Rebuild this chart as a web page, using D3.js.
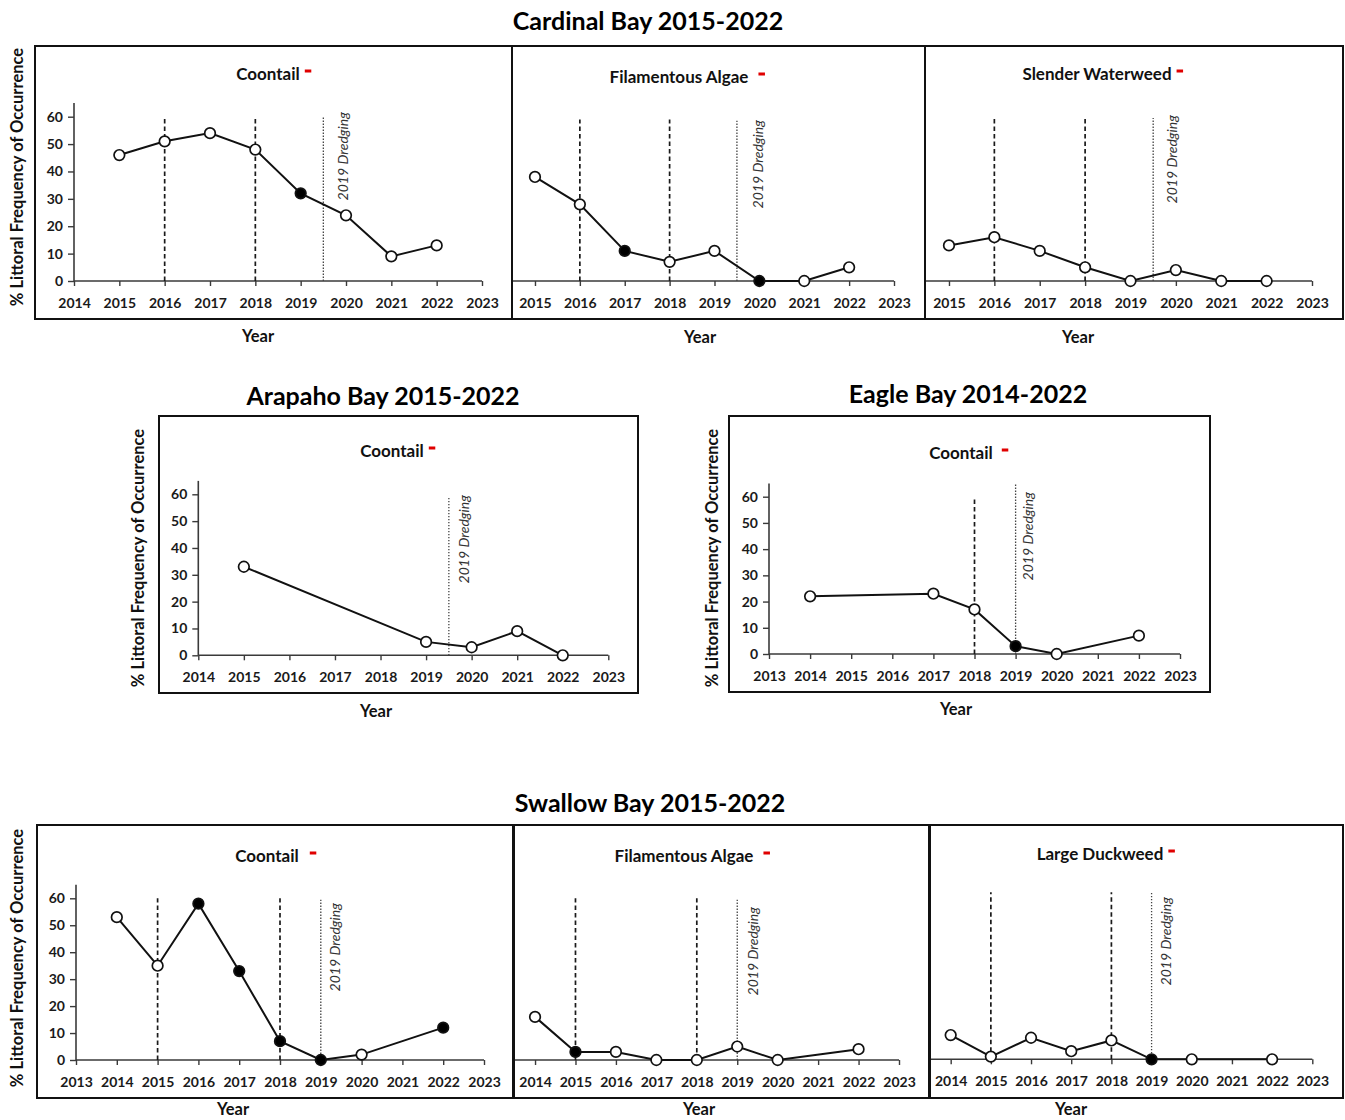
<!DOCTYPE html>
<html>
<head>
<meta charset="utf-8">
<script src="https://cdn.jsdelivr.net/npm/d3@7"></script>
<style>
  body { margin: 0; background: #fff; }
  svg { display: block; }
  text { font-family: Lato, "Open Sans", "Liberation Sans", sans-serif; }
</style>
</head>
<body>
<svg id="chart" width="1345" height="1120"></svg>
<script>
// ---- Survey years per bay ----
const cardinalYears = [2015, 2016, 2017, 2018, 2019, 2020, 2021, 2022];
const arapahoYears  = [2015, 2019, 2020, 2021, 2022];
const eagleYears    = [2014, 2017, 2018, 2019, 2020, 2022];
const swallowYears  = [2014, 2015, 2016, 2017, 2018, 2019, 2020, 2022];

// ---- % littoral frequency of occurrence ----
const cardinalCoontail  = [46, 51, 54, 48, 32, 24, 9, 13];
const cardinalFilAlgae  = [38, 28, 11, 7, 11, 0, 0, 5];
const cardinalWaterweed = [13, 16, 11, 5, 0, 4, 0, 0];
const arapahoCoontail   = [33, 5, 3, 9, 0];
const eagleCoontail     = [22, 23, 17, 3, 0, 7];
const swallowCoontail   = [53, 35, 58, 33, 7, 0, 2, 12];
const swallowFilAlgae   = [16, 3, 3, 0, 0, 5, 0, 4];
const swallowDuckweed   = [9, 1, 8, 3, 7, 0, 0, 0];

// ---- years with a significant change (filled markers) ----
const cardinalCoontailSig  = [2019];
const cardinalFilAlgaeSig  = [2017, 2020];
const cardinalWaterweedSig = [];
const arapahoCoontailSig   = [];
const eagleCoontailSig     = [2019];
const swallowCoontailSig   = [2016, 2017, 2018, 2019, 2022];
const swallowFilAlgaeSig   = [2015];
const swallowDuckweedSig   = [2019];

// ---- treatment years (dashed) and dredging year (dotted) ----
const cardinalTreatYears = [2016, 2018];
const arapahoTreatYears  = [];
const eagleTreatYears    = [2018];
const swallowTreatYears  = [2015, 2018];
const cardinalDredge = 2019.5;
const arapahoDredge  = 2019.5;
const eagleDredge    = 2019;
const swallowDredge  = 2019;

// ---- text ----
const bayTitles = ["Cardinal Bay 2015-2022", "Arapaho Bay 2015-2022", "Eagle Bay 2014-2022", "Swallow Bay 2015-2022"];
const yTicks = [0, 10, 20, 30, 40, 50, 60];
const yTitle = "% Littoral Frequency of Occurrence";
const xTitle = "Year";
const dredgeLabel = "2019 Dredging";

const svg = d3.select("#chart");
const FONT = "Lato, 'Open Sans', sans-serif";

// panel layout
const panels = [
  { box: [35, 46, 512, 319], xDom: [2014, 2023], xR: [74, 482], y0: 281, y60: 116.7,
    years: cardinalYears, values: cardinalCoontail, sig: cardinalCoontailSig, treat: cardinalTreatYears, dredge: cardinalDredge,
    showY: true, label: "Coontail", lx: 268, ly: 73, gap: 5, yearX: 258, yearY: 336, yTX: 17, yTY: 177,
    dDx: 20, dTop: 112, refTop: 60, dotTop: 60 },
  { box: [512, 46, 925, 319], xDom: [2014, 2023], xR: [490.1, 894], y0: 281, y60: 116.7,
    years: cardinalYears, values: cardinalFilAlgae, sig: cardinalFilAlgaeSig, treat: cardinalTreatYears, dredge: cardinalDredge,
    showY: false, label: "Filamentous Algae", lx: 679, ly: 76, gap: 10, yearX: 700, yearY: 337,
    dDx: 21, dTop: 120, refTop: 59, dotTop: 58.5 },
  { box: [925, 46, 1343, 319], xDom: [2014, 2023], xR: [903.6, 1312], y0: 281, y60: 116.7,
    years: cardinalYears, values: cardinalWaterweed, sig: cardinalWaterweedSig, treat: cardinalTreatYears, dredge: cardinalDredge,
    showY: false, label: "Slender Waterweed", lx: 1097, ly: 73, gap: 5, yearX: 1078, yearY: 337,
    dDx: 19, dTop: 115, refTop: 59.5, dotTop: 59.5 },
  { box: [159, 416, 638, 693], xDom: [2014, 2023], xR: [198.3, 608.3], y0: 655.3, y60: 494.3,
    years: arapahoYears, values: arapahoCoontail, sig: arapahoCoontailSig, treat: arapahoTreatYears, dredge: arapahoDredge,
    showY: true, label: "Coontail", lx: 392, ly: 450, gap: 5, yearX: 376, yearY: 711, yTX: 138, yTY: 558,
    dDx: 15, dTop: 495, refTop: 59, dotTop: 59 },
  { box: [729, 416, 1210, 692], xDom: [2013, 2023], xR: [769, 1180], y0: 654, y60: 496.7,
    years: eagleYears, values: eagleCoontail, sig: eagleCoontailSig, treat: eagleTreatYears, dredge: eagleDredge,
    showY: true, label: "Coontail", lx: 961, ly: 452, gap: 9, yearX: 956, yearY: 709, yTX: 712, yTY: 558,
    dDx: 12, dTop: 492, refTop: 60, dotTop: 65 },
  { box: [37, 825, 513, 1098], xDom: [2013, 2023], xR: [76, 484], y0: 1060, y60: 898.3,
    years: swallowYears, values: swallowCoontail, sig: swallowCoontailSig, treat: swallowTreatYears, dredge: swallowDredge,
    showY: true, label: "Coontail", lx: 267, ly: 855, gap: 11, yearX: 233, yearY: 1109, yTX: 17, yTY: 958,
    dDx: 14, dTop: 903, refTop: 60, dotTop: 59.5 },
  { box: [514, 825, 929, 1098], xDom: [2013, 2023], xR: [494.6, 899], y0: 1060, y60: 898.3,
    years: swallowYears, values: swallowFilAlgae, sig: swallowFilAlgaeSig, treat: swallowTreatYears, dredge: swallowDredge,
    showY: false, label: "Filamentous Algae", lx: 684, ly: 855, gap: 10, yearX: 699, yearY: 1109,
    dDx: 16, dTop: 907, refTop: 60, dotTop: 59.5 },
  { box: [930, 825, 1343, 1098], xDom: [2013, 2023], xR: [910.5, 1312.3], y0: 1059.3, y60: 897.6,
    years: swallowYears, values: swallowDuckweed, sig: swallowDuckweedSig, treat: swallowTreatYears, dredge: swallowDredge,
    showY: false, label: "Large Duckweed", lx: 1100, ly: 853, gap: 5, yearX: 1071, yearY: 1109,
    dDx: 14, dTop: 897, refTop: 62, dotTop: 62 }
];

// bay titles
const titlePos = [[648, 20], [383, 395], [968, 393], [650, 802]];
bayTitles.forEach((t, i) => {
  svg.append("text")
    .attr("x", titlePos[i][0]).attr("y", titlePos[i][1])
    .attr("text-anchor", "middle").attr("dominant-baseline", "central")
    .attr("font-size", 25).attr("font-weight", 700).attr("fill", "#000")
    .text(t);
});

const defs = svg.append("defs");

panels.forEach((p, i) => {
  const [bx0, by0, bx1, by1] = p.box;
  const x = d3.scaleLinear().domain(p.xDom).range(p.xR);
  const y = d3.scaleLinear().domain([0, 60]).range([p.y0, p.y60]);

  defs.append("clipPath").attr("id", "clip" + i)
    .append("rect").attr("x", bx0).attr("y", by0).attr("width", bx1 - bx0).attr("height", by1 - by0);

  const g = svg.append("g").attr("clip-path", `url(#clip${i})`);

  // x axis: only the years that fall inside the frame
  const xTickVals = d3.range(p.xDom[0], p.xDom[1] + 1).filter(t => x(t) - 16 > bx0);
  const xAxis = g.append("g")
    .attr("transform", `translate(0,${y(0)})`)
    .call(d3.axisBottom(x).tickValues(xTickVals).tickFormat(d3.format("d")).tickSize(5).tickSizeOuter(0).tickPadding(12));
  xAxis.select(".domain").attr("stroke", "#3a3a3a").attr("stroke-width", 1.6)
    .attr("d", `M${Math.max(p.xR[0], bx0)},0H${p.xR[1]}`);
  xAxis.selectAll(".tick line").attr("stroke", "#3a3a3a").attr("stroke-width", 1.4);
  xAxis.selectAll(".tick text").attr("font-size", 14).attr("font-weight", 700).attr("fill", "#1a1a1a")
    .style("font-family", FONT);

  // y axis
  if (p.showY) {
    const yAxis = g.append("g")
      .attr("transform", `translate(${p.xR[0]},0)`)
      .call(d3.axisLeft(y).tickValues(yTicks).tickSize(6).tickSizeOuter(0).tickPadding(5));
    yAxis.select(".domain").attr("stroke", "#3a3a3a").attr("stroke-width", 1.6)
      .attr("d", `M0,${y(0)}V${y(65)}`);
    yAxis.selectAll(".tick line").attr("stroke", "#3a3a3a").attr("stroke-width", 1.4);
    yAxis.selectAll(".tick text").attr("font-size", 14).attr("font-weight", 700).attr("fill", "#1a1a1a")
      .style("font-family", FONT);

    svg.append("text")
      .attr("transform", `translate(${p.yTX + 6},${p.yTY}) rotate(-90)`)
      .attr("text-anchor", "middle")
      .attr("font-size", 16.5).attr("font-weight", 700).attr("fill", "#111")
      .text(yTitle);
  }

  // treatment lines (dashed)
  g.selectAll(".treat").data(p.treat).enter().append("line")
    .attr("x1", d => x(d)).attr("x2", d => x(d))
    .attr("y1", y(0)).attr("y2", y(p.refTop))
    .attr("stroke", "#1a1a1a").attr("stroke-width", 1.7).attr("stroke-dasharray", "4.5,3");

  // dredging line (dotted)
  g.append("line")
    .attr("x1", x(p.dredge)).attr("x2", x(p.dredge))
    .attr("y1", y(0)).attr("y2", y(p.dotTop))
    .attr("stroke", "#444").attr("stroke-width", 1.3).attr("stroke-dasharray", "1.4,1.6");

  g.append("text")
    .attr("transform", `translate(${x(p.dredge) + p.dDx + 5},${p.dTop}) rotate(-90)`)
    .attr("text-anchor", "end")
    .attr("font-size", 14).attr("font-style", "italic").attr("fill", "#333")
    .text(dredgeLabel);

  // series line + markers
  const pts = p.years.map((yr, k) => ({ year: yr, value: p.values[k], sig: p.sig.includes(yr) }));
  g.append("path").datum(pts)
    .attr("fill", "none").attr("stroke", "#111").attr("stroke-width", 2)
    .attr("d", d3.line().x(d => x(d.year)).y(d => y(d.value)));
  g.selectAll(".pt").data(pts).enter().append("circle")
    .attr("cx", d => x(d.year)).attr("cy", d => y(d.value)).attr("r", 5.3)
    .attr("fill", d => d.sig ? "#000" : "#fff")
    .attr("stroke", "#111").attr("stroke-width", 1.7);

  // species label with red marker
  const lab = svg.append("text")
    .attr("x", p.lx).attr("y", p.ly)
    .attr("text-anchor", "middle").attr("dominant-baseline", "central")
    .attr("font-size", 17).attr("font-weight", 700).attr("fill", "#111")
    .text(p.label);
  const tw = lab.node().getComputedTextLength();
  svg.append("rect")
    .attr("x", p.lx + tw / 2 + p.gap).attr("y", p.ly - 3.5)
    .attr("width", 6.5).attr("height", 3).attr("fill", "#e00000");

  // x title
  svg.append("text")
    .attr("x", p.yearX).attr("y", p.yearY)
    .attr("text-anchor", "middle").attr("dominant-baseline", "central")
    .attr("font-size", 16.5).attr("font-weight", 700).attr("fill", "#111")
    .text(xTitle);

  // frame
  svg.append("rect")
    .attr("x", bx0).attr("y", by0).attr("width", bx1 - bx0).attr("height", by1 - by0)
    .attr("fill", "none").attr("stroke", "#111").attr("stroke-width", 2);
});
</script>
</body>
</html>
